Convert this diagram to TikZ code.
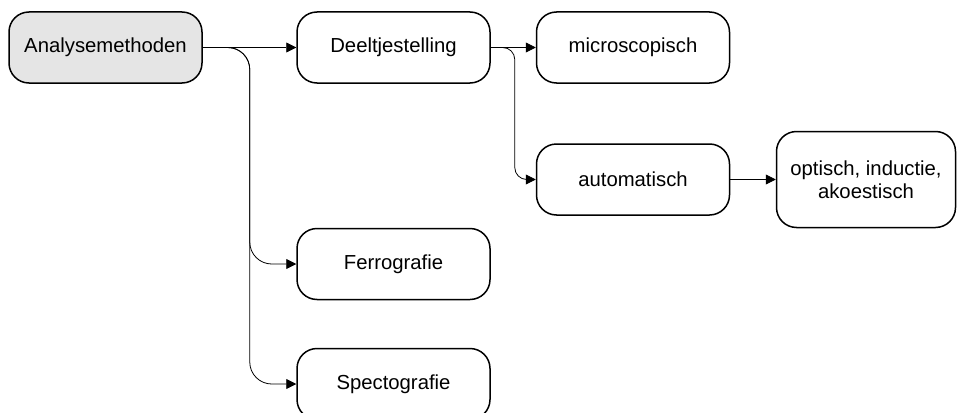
\documentclass[tikz,border=0pt]{standalone}
\usepackage{fontspec}
\setmainfont{Liberation Sans}
\usetikzlibrary{arrows.meta}
\begin{document}
\begin{tikzpicture}[x=1pt,y=-1pt,
  box/.style={draw, line width=1.5pt, rounded corners=20pt, minimum width=193pt,
    minimum height=71pt, inner sep=0pt, align=center,
    font=\fontsize{20.3}{23}\selectfont},
  conn/.style={line width=0.8pt, -{Triangle[length=10pt,width=10pt]}},
]
\useasboundingbox (0,0) rectangle (957,412);

% boxes
\node[box, fill=gray!20] (ana)   at (105.5,47.5) {Analysemethoden};
\node[box] (deel)  at (393.5,47.5) {Deeltjestelling};
\node[box] (micro) at (633,47.5)   {microscopisch};
\node[box] (auto)  at (633,179.5)  {automatisch};
\node[box, minimum width=179pt, minimum height=96pt] (opt) at (866,179.5)
  {optisch, inductie,\\akoestisch};
\node[box] (ferro) at (393.5,264)  {Ferrografie};
\node[box] (spec)  at (393.5,384)  {Spectografie};

% connectors
\draw[conn] (ana.east) -- (deel.west);
\draw[conn, rounded corners=22pt] (ana.east) -- ++(47,0) |- (ferro.west);
\draw[conn, rounded corners=22pt] (ana.east) -- ++(47,0) |- (spec.west);
\draw[conn] (deel.east) -- (micro.west);
\draw[conn, rounded corners=12pt] (deel.east) -- ++(24,0) |- (auto.west);
\draw[conn] (auto.east) -- (opt.west);
\end{tikzpicture}
\end{document}
